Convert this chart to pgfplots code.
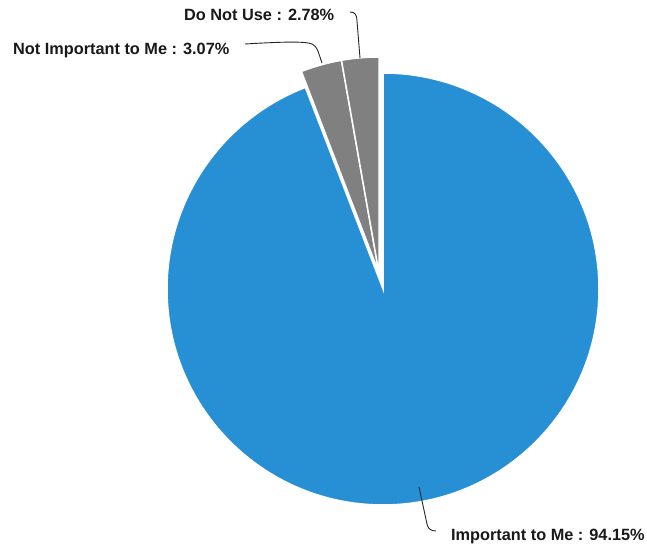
\documentclass[border=0pt]{standalone}
\usepackage{fontspec}
\setmainfont{Liberation Sans}
\usepackage{pgfplots}
\pgfplotsset{compat=1.18}
\definecolor{pieblue}{RGB}{39,143,212}
\definecolor{piegray}{RGB}{128,128,128}
\definecolor{labtext}{RGB}{25,25,25}
\begin{document}
\begin{tikzpicture}
% data (percent)
\def\vImp{94.15}
\def\vNot{3.07}
\def\vDNU{2.78}
\pgfmathsetmacro{\aA}{90}
\pgfmathsetmacro{\aB}{90-3.6*\vImp}
\pgfmathsetmacro{\aC}{\aB-3.6*\vNot}
\pgfmathsetmacro{\aD}{\aC-3.6*\vDNU}
\begin{axis}[
  scale only axis, width=647bp, height=544bp,
  xmin=0, xmax=647, ymin=0, ymax=544,
  hide axis, clip=false,
]
\path (axis cs:0,0) rectangle (axis cs:647,544);
% blue slice
\filldraw[fill=pieblue, draw=white, line width=1.5bp]
  (axis cs:383,255) -- ++(\aA:216bp) arc[start angle=\aA, end angle=\aB, radius=216bp] -- cycle;
% exploded gray slices
\filldraw[fill=piegray, draw=white, line width=1.5bp]
  (axis cs:379,271) -- ++(\aB+360:216bp) arc[start angle=\aB+360, end angle=\aC+360, radius=216bp] -- cycle;
\filldraw[fill=piegray, draw=white, line width=1.5bp]
  (axis cs:379,271) -- ++(\aC+360:216bp) arc[start angle=\aC+360, end angle=\aD+360, radius=216bp] -- cycle;
% leader lines
\draw[black!85, line width=0.9bp] (axis cs:350,532) .. controls (axis cs:355,532) and (axis cs:357,529) .. (axis cs:357,523) -- (axis cs:360,486);
\draw[black!85, line width=0.9bp] (axis cs:245,500) .. controls (axis cs:280,502) and (axis cs:305,503) .. (axis cs:312,500) .. controls (axis cs:318,497) and (axis cs:318,492) .. (axis cs:322,481);
\draw[black!85, line width=0.9bp] (axis cs:419,57) -- (axis cs:427,20) .. controls (axis cs:428,15) and (axis cs:431,13) .. (axis cs:436,13);
% labels
\node[anchor=base west, inner sep=0pt, text=labtext, font=\fontsize{16.3bp}{19bp}\selectfont\bfseries] at (axis cs:184,523) {Do Not Use : 2.78\%};
\node[anchor=base west, inner sep=0pt, text=labtext, font=\fontsize{16.3bp}{19bp}\selectfont\bfseries] at (axis cs:13,489) {Not Important to Me : 3.07\%};
\node[anchor=base west, inner sep=0pt, text=labtext, font=\fontsize{16.3bp}{19bp}\selectfont\bfseries] at (axis cs:451,3) {Important to Me : 94.15\%};
\end{axis}
\end{tikzpicture}
\end{document}
